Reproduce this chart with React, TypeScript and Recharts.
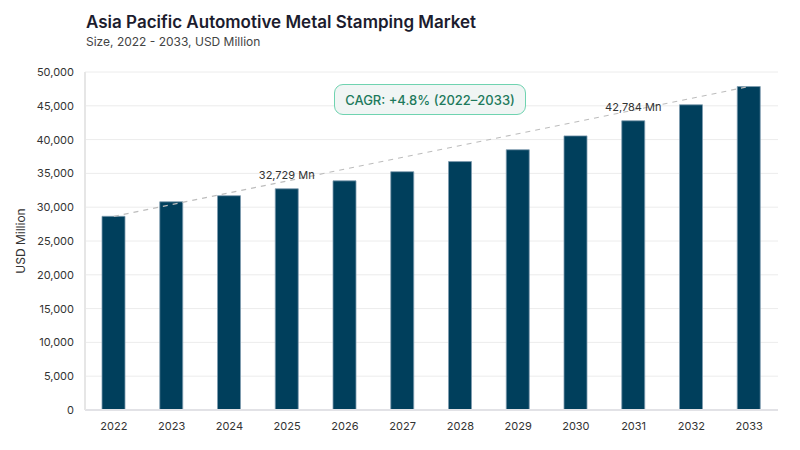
import {
  Bar,
  CartesianGrid,
  ComposedChart,
  LabelList,
  Line,
  XAxis,
  YAxis,
} from 'recharts';

const years = ['2022', '2023', '2024', '2025', '2026', '2027', '2028', '2029', '2030', '2031', '2032', '2033'];
const marketSize = [28650, 30800, 31700, 32729, 33900, 35250, 36750, 38500, 40550, 42784, 45150, 47850];
const labelledYears = ['2025', '2031'];
const yTicks = [0, 5000, 10000, 15000, 20000, 25000, 30000, 35000, 40000, 45000, 50000];

const font = 'Inter, "DejaVu Sans", sans-serif';
const barColor = '#003f5c';

const data = years.map((year, i) => ({
  year,
  value: marketSize[i],
  trend: i === 0 || i === years.length - 1 ? marketSize[i] : null,
  label: labelledYears.includes(year) ? `${marketSize[i].toLocaleString('en-US')} Mn` : null,
}));

const axisTick = { fontSize: 11, fill: '#333', fontFamily: font };

function ValueLabel(props: any) {
  const { x, y, width, value } = props;
  if (!value) return null;
  return (
    <text
      x={x + width / 2}
      y={y - 10}
      textAnchor="middle"
      fontSize={11}
      fill="#333"
      fontFamily={font}
    >
      {value}
    </text>
  );
}

export default function App() {
  return (
    <div
      style={{
        position: 'absolute',
        left: 0,
        top: 0,
        width: 800,
        height: 450,
        background: '#fff',
        fontFamily: font,
      }}
    >
      <div style={{ position: 'absolute', left: 86, top: 12, fontSize: 17, fontWeight: 600, color: '#1c1c2e' }}>
        Asia Pacific Automotive Metal Stamping Market
      </div>
      <div style={{ position: 'absolute', left: 86, top: 34, fontSize: 12, color: '#444' }}>
        Size, 2022 - 2033, USD Million
      </div>
      <ComposedChart
        width={800}
        height={450}
        data={data}
        margin={{ top: 72, right: 22, bottom: 12, left: 0 }}
      >
        <CartesianGrid stroke="#ececec" vertical={false} />
        <XAxis
          dataKey="year"
          height={28}
          tick={axisTick}
          tickLine={false}
          axisLine={{ stroke: '#e2e2e6', strokeWidth: 2 }}
          tickMargin={6}
        />
        <YAxis
          width={85}
          domain={[0, 50000]}
          ticks={yTicks}
          tick={axisTick}
          tickLine={false}
          axisLine={{ stroke: '#e6e6e6', strokeWidth: 2 }}
          tickMargin={5}
          tickFormatter={(v: number) => v.toLocaleString('en-US')}
          label={{
            value: 'USD Million',
            angle: -90,
            position: 'insideLeft',
            offset: 21,
            style: { textAnchor: 'middle', fontSize: 12, fill: '#333', fontFamily: font },
          }}
        />
        <Bar
          dataKey="value"
          fill={barColor}
          stroke="#7f9cb0"
          strokeWidth={0.8}
          barSize={23}
          isAnimationActive={false}
        >
          <LabelList dataKey="label" content={ValueLabel} />
        </Bar>
        <Line
          dataKey="trend"
          stroke="#bdbdbd"
          strokeWidth={1.2}
          strokeDasharray="5 5"
          dot={false}
          activeDot={false}
          connectNulls
          isAnimationActive={false}
        />
      </ComposedChart>
      <div
        style={{
          position: 'absolute',
          left: 334,
          top: 84,
          width: 192,
          height: 31,
          boxSizing: 'border-box',
          border: '1.5px solid #6fd3b0',
          borderRadius: 9,
          background: '#f0f5f4',
          color: '#1e7a5c',
          fontSize: 13,
          fontWeight: 500,
          display: 'flex',
          alignItems: 'center',
          justifyContent: 'center',
        }}
      >
        CAGR: +4.8% (2022–2033)
      </div>
    </div>
  );
}
